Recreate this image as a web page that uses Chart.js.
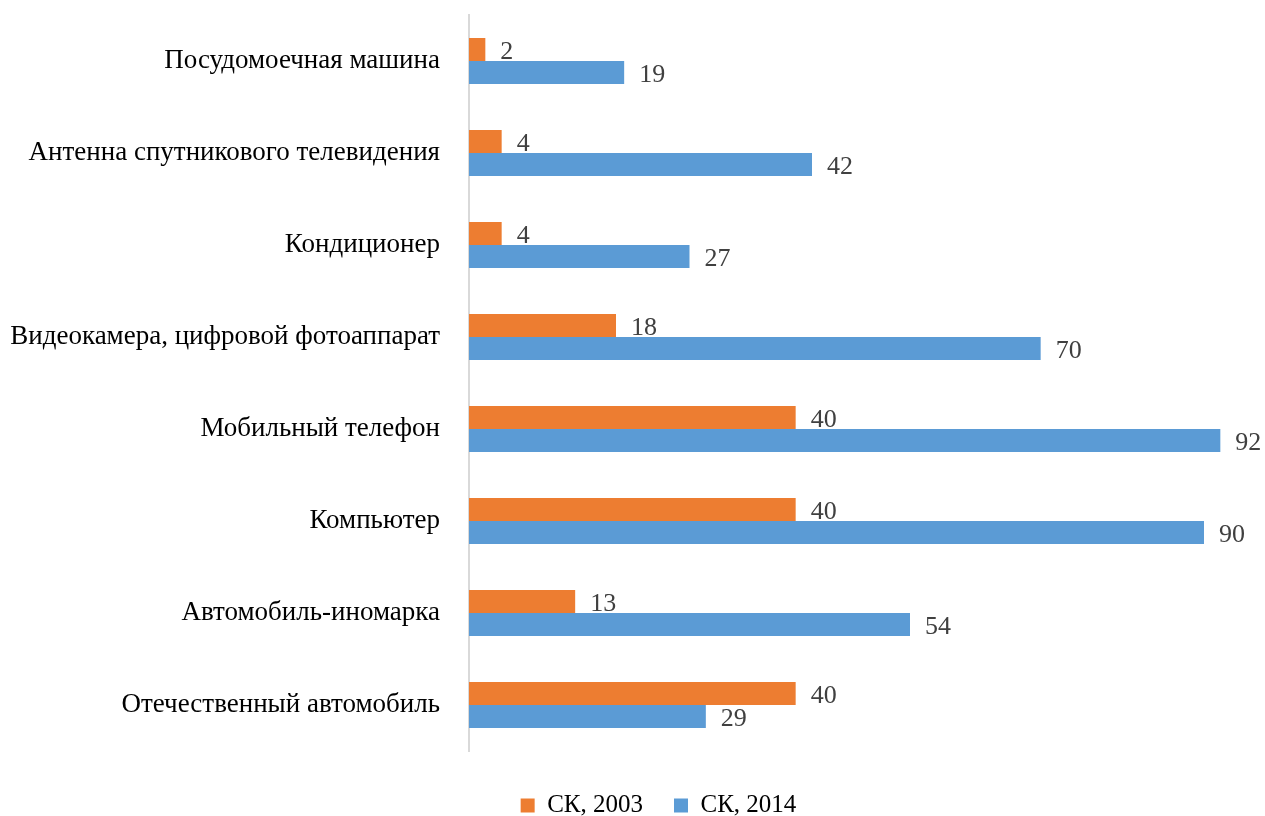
<!DOCTYPE html>
<html>
<head>
<meta charset="utf-8">
<script src="https://cdn.jsdelivr.net/npm/chart.js@4/dist/chart.umd.min.js"></script>
<style>
  html, body { margin: 0; padding: 0; background: #fff; }
  #wrap { width: 1265px; height: 816px; }
</style>
</head>
<body>
<div id="wrap"><canvas id="chart"></canvas></div>
<script>
const categories = [
    'Посудомоечная машина',
    'Антенна спутникового телевидения',
    'Кондиционер',
    'Видеокамера, цифровой фотоаппарат',
    'Мобильный телефон',
    'Компьютер',
    'Автомобиль-иномарка',
    'Отечественный автомобиль'
];
const seriesNames = ['СК, 2003', 'СК, 2014'];
const values2003 = [2, 4, 4, 18, 40, 40, 13, 40];
const values2014 = [19, 42, 27, 70, 92, 90, 54, 29];

const fontFamily = '"Liberation Serif", "DejaVu Serif", serif';

// draws the value next to the end of each bar
const valueLabels = {
    id: 'valueLabels',
    afterDatasetsDraw(chart) {
        const ctx = chart.ctx;
        ctx.save();
        ctx.font = '26px ' + fontFamily;
        ctx.fillStyle = '#404040';
        ctx.textAlign = 'left';
        ctx.textBaseline = 'middle';
        chart.data.datasets.forEach((ds, i) => {
            const meta = chart.getDatasetMeta(i);
            meta.data.forEach((bar, j) => {
                ctx.fillText(ds.data[j], bar.x + 15, bar.y + 3);
            });
        });
        ctx.restore();
    }
};

// legend in the original sits a bit right of the page centre
const legendShift = {
    id: 'legendShift',
    afterLayout(chart) {
        chart.legend.left += 28;
        chart.legend.right += 28;
    }
};

const ctx = document.getElementById('chart').getContext('2d');
new Chart(ctx, {
    type: 'bar',
    data: {
        labels: categories,
        datasets: [{
            label: seriesNames[0],
            data: values2003,
            backgroundColor: '#ED7D31',
            categoryPercentage: 0.5,
            barPercentage: 1
        }, {
            label: seriesNames[1],
            data: values2014,
            backgroundColor: '#5B9BD5',
            categoryPercentage: 0.5,
            barPercentage: 1
        }]
    },
    options: {
        indexAxis: 'y',
        responsive: true,
        maintainAspectRatio: false,
        animation: false,
        layout: { padding: { top: 15, right: 12, left: 8, bottom: -12 } },
        scales: {
            x: {
                min: 0,
                max: 96,
                grid: { display: false },
                border: { display: false },
                ticks: { display: false },
                afterFit(scale) { scale.height = 11; }
            },
            y: {
                grid: { display: false, drawTicks: false },
                border: { display: true, color: '#D9D9D9', width: 2 },
                ticks: {
                    color: '#000',
                    padding: 29,
                    font: { family: fontFamily, size: 27 }
                },
                afterFit(scale) {
                    scale.width = 461;
                    scale.paddingTop = 0;
                    scale.paddingBottom = 0;
                }
            }
        },
        plugins: {
            legend: {
                position: 'bottom',
                labels: {
                    boxWidth: 14,
                    boxHeight: 14,
                    padding: 31,
                    color: '#000',
                    font: { family: fontFamily, size: 25 }
                }
            },
            tooltip: { enabled: false }
        }
    },
    plugins: [valueLabels, legendShift]
});
</script>
</body>
</html>
